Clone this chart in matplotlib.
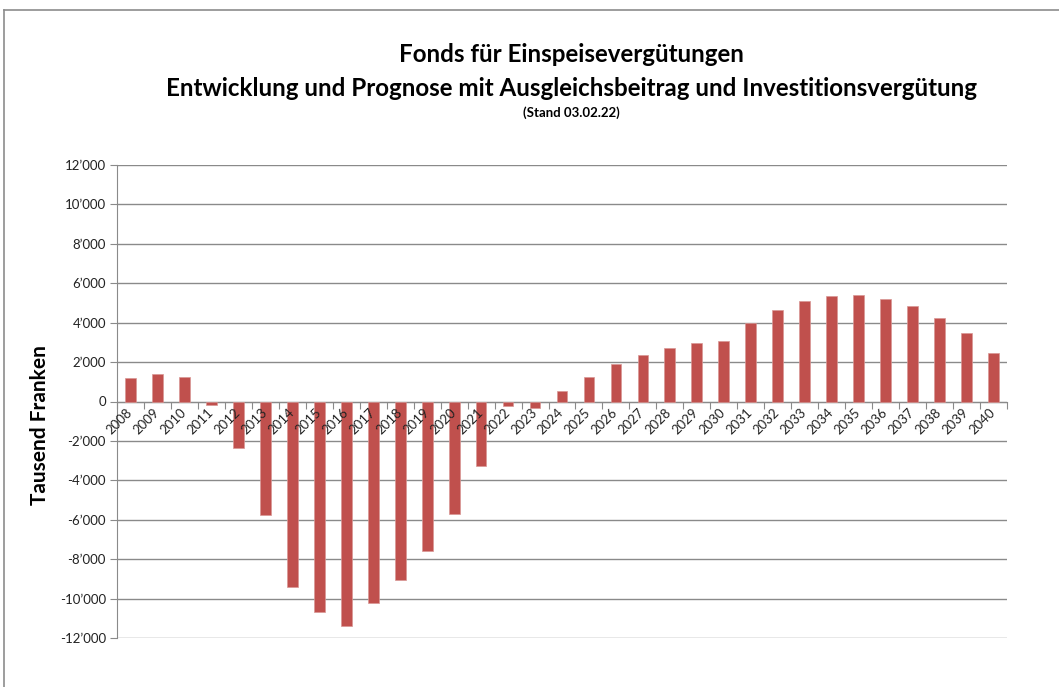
import matplotlib
matplotlib.use("Agg")
import matplotlib.pyplot as plt
from matplotlib.lines import Line2D
from matplotlib.ticker import FuncFormatter, FixedLocator
import matplotlib.transforms as mtransforms
import numpy as np

years = [str(y) for y in range(2008, 2041)]
values = [1180, 1420, 1220, -200, -2360, -5740, -9430, -10660, -11400, -10200,
          -9040, -7575, -5710, -3250, -240, -320, 520, 1260, 1885, 2340,
          2690, 2945, 3045, 3990, 4660, 5115, 5370, 5400, 5215, 4850,
          4240, 3480, 2455]
yticks = list(range(-12000, 12001, 2000))

title1 = "Fonds für Einspeisevergütungen"
title2 = "Entwicklung und Prognose mit Ausgleichsbeitrag und Investitionsvergütung"
title3 = "(Stand 03.02.22)"
ylabel = "Tausend Franken"

FONT = ["Lato", "DejaVu Sans"]
plt.rcParams['font.family'] = FONT

W, H = 1059, 687
fig = plt.figure(figsize=(W / 100, H / 100), dpi=100)
fig.patch.set_facecolor("white")

# outer chart border (top and left visible)
border = "#8c8c8c"
fig.add_artist(Line2D([4 / W, 1.0], [1 - 10 / H, 1 - 10 / H], color=border, lw=1.2))
fig.add_artist(Line2D([4 / W, 4 / W], [0.0, 1 - 10 / H], color=border, lw=1.2))

left, right, top, bottom = 117, 1007, 165, 638
ax = fig.add_axes([left / W, 1 - bottom / H, (right - left) / W, (bottom - top) / H])
ax.set_axisbelow(True)

x = np.arange(len(years))
ax.bar(x, values, width=0.4, color="#C0504D", edgecolor="#D99694", linewidth=0.5, zorder=3)

ax.set_xlim(-0.5, len(years) - 0.5)
ax.set_ylim(-12000, 12000)
ax.set_yticks(yticks)
ax.yaxis.set_major_formatter(FuncFormatter(lambda v, p: f"{int(v):,}".replace(",", "\u2019")))
ax.grid(axis="y", color="#8a8a8a", linewidth=1.0)
ax.tick_params(axis="y", length=5, color="#8a8a8a", labelsize=9.5, labelcolor="#222222", pad=3)

for s in ["top", "right"]:
    ax.spines[s].set_visible(False)
ax.spines["left"].set_color("#8a8a8a")
ax.spines["bottom"].set_color("#8a8a8a")
ax.spines["bottom"].set_position(("data", 0))

# boundary ticks at category edges
ax.xaxis.set_major_locator(FixedLocator(np.arange(-0.5, len(years), 1.0)))
ax.xaxis.set_major_formatter(FuncFormatter(lambda v, p: ""))
ax.tick_params(axis="x", which="major", length=5, color="#8a8a8a")

# category labels drawn above the bars
trans = mtransforms.offset_copy(ax.transData, fig=fig, x=4, y=-5, units="dots")
for xi, lab in zip(x, years):
    ax.text(xi, 0, lab, transform=trans, rotation=45, ha="right", va="top",
            fontsize=9.5, color="#222222", zorder=6, clip_on=False)

ax.set_ylabel(ylabel, fontsize=15, fontweight="bold")
ax.yaxis.set_label_coords(-67 / (right - left), 0.45)

cx = 571 / W
fig.text(cx, 1 - 55 / H, title1, ha="center", va="center", fontsize=17.4, fontweight="bold")
fig.text(cx, 1 - 89 / H, title2, ha="center", va="center", fontsize=17.4, fontweight="bold")
fig.text(cx, 1 - 113 / H, title3, ha="center", va="center", fontsize=9.5, fontweight="bold")

fig.savefig("out.png", dpi=100, facecolor="white")
